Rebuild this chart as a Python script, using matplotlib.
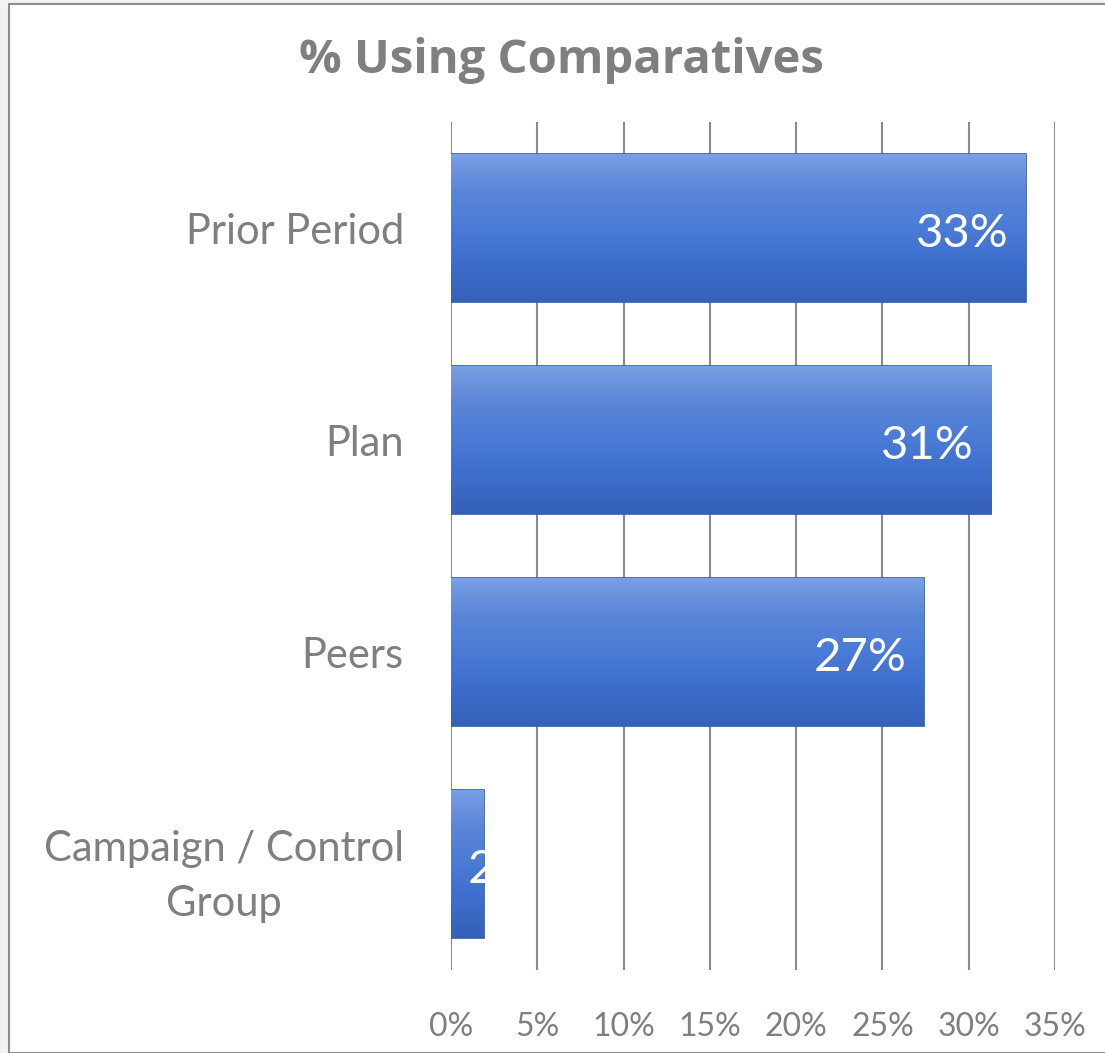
import matplotlib.pyplot as plt
import numpy as np
from matplotlib.patches import Rectangle
from matplotlib.colors import LinearSegmentedColormap

categories = ['Prior Period', 'Plan', 'Peers', 'Campaign / Control\nGroup']
values = [33.3, 31.3, 27.4, 1.9]
labels = ['33%', '31%', '27%', '2%']
xticks = [0, 5, 10, 15, 20, 25, 30, 35]

plt.rcParams['font.family'] = ['Lato', 'DejaVu Sans']

W, H = 1105, 1053
fig = plt.figure(figsize=(W / 100, H / 100), dpi=100, facecolor='#f2f2f2')

# chart frame
frame = Rectangle((9 / W, 0), 1.0, 1 - 4 / H, transform=fig.transFigure,
                  facecolor='white', edgecolor='#8c8c8c', linewidth=1.5, zorder=-5)
fig.patches.append(frame)

ax = fig.add_axes([451 / W, 1 - 970 / H, (1055 - 451) / W, (970 - 122) / H])
ax.set_facecolor('none')
for s in ax.spines.values():
    s.set_visible(False)

ax.set_xticks(xticks)
ax.set_xticklabels([f'{t}%' for t in xticks], color='#7f7f7f', fontsize=23)
ax.set_yticks(range(len(categories)))
ax.set_yticklabels(categories, color='#7f7f7f', fontsize=30, linespacing=1.55)
for tl in ax.get_yticklabels():
    tl.set_multialignment('center')
ax.tick_params(length=0)
ax.tick_params(axis='x', pad=30)
ax.tick_params(axis='y', pad=34)
ax.xaxis.grid(True, color='#8a8a8a', linewidth=1.5)
ax.set_axisbelow(True)

bars = ax.barh(range(len(categories)), values, height=0.70,
               color='#4677d4', edgecolor='#2f5aa0', linewidth=1.2, zorder=2)

# vertical gradient on bars
grad = np.linspace(0, 1, 256).reshape(-1, 1)
cmap = LinearSegmentedColormap.from_list('b', ['#7aa0e4', '#5b86d8', '#4a7bd6', '#3d6dcb', '#3461b8'])
for b in bars:
    x0, y0 = b.get_x(), b.get_y()
    w, h = b.get_width(), b.get_height()
    im = ax.imshow(grad, cmap=cmap, aspect='auto', extent=(x0, x0 + w, y0 + h, y0),
                   zorder=2.5)
    im.set_clip_path(b)

for i, (b, lab) in enumerate(zip(bars, labels)):
    big = b.get_width() > 5
    t = ax.text(b.get_width() - 1.0 if big else 0.95, i + 0.03, lab,
                ha='right' if big else 'left', va='center',
                color='white', fontsize=34, zorder=3)
    t.set_clip_path(b)

ax.set_xlim(0, 35)
ax.set_ylim(len(categories) - 0.5, -0.5)

fig.text(561 / W, 1 - 61 / H, '% Using Comparatives', ha='center', va='center',
         fontsize=34, fontweight='bold', color='#7f7f7f', family='Open Sans')

fig.savefig('out.png', dpi=100, facecolor=fig.get_facecolor())
